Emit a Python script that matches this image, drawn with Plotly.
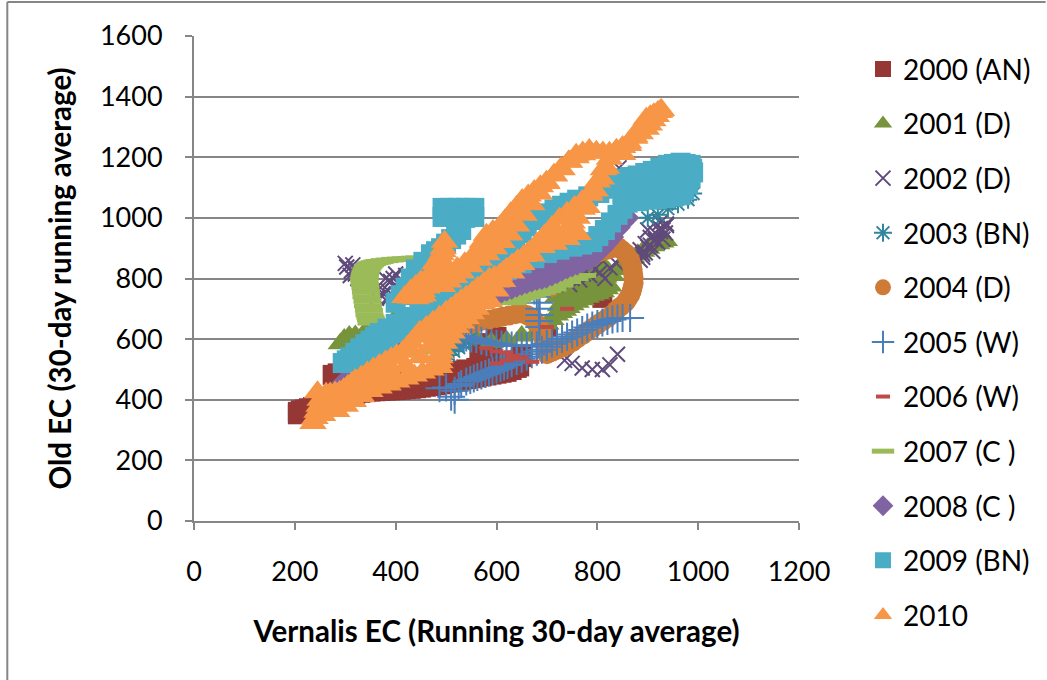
import plotly.graph_objects as go

names = ["2000 (AN)", "2001 (D)", "2002 (D)", "2003 (BN)", "2004 (D)", "2005 (W)",
         "2006 (W)", "2007 (C )", "2008 (C )", "2009 (BN)", "2010"]
colors = ["#953735", "#77933C", "#604A7B", "#31859C", "#CD7B36", "#4A7EBB",
          "#BE4B48", "#9BBB59", "#8064A2", "#4BACC6", "#F79646"]
symbols = ["square", "triangle-up", "x-thin", "asterisk", "circle", "cross-thin",
           "line-ew", "line-ew", "diamond", "square", "triangle-up"]
sizes = [20, 22, 15, 15, 20, 20, 10, 20, 18, 20, 24]
line_w = [0, 0, 2, 2, 0, 2, 4, 5, 0, 0, 0]

x2000 = [206,206,212,220,228,236,245,254,262,271,280,290,300,310,320,330,340,350,360,370,380,390,400,410,420,430,440,450,460,470,480,490,500,510,520,530,540,550,560,570,580,590,600,610,620,630,640,645,
         275,285,300,315,330,345,360,380,400,420,440,460,480,500,520,540,560,580,600,620,635,
         566,576,590,600,630,650,700,744,770,810]
y2000 = [360,352,365,368,372,376,380,386,392,397,402,407,412,416,420,423,425,427,428,429,430,431,432,433,435,436,438,440,443,445,448,451,455,457,460,464,468,471,474,477,480,483,486,489,492,498,505,510,
         482,487,495,502,510,520,530,455,462,465,468,475,480,490,495,500,505,515,520,525,530,
         555,587,575,607,525,541,640,740,762,736]
x2001 = [290,298,308,320,340,370,400,560,590,620,650,680,700,710,719,727,735,742,750,760,770,780,790,800,810,818,825,830,822,815,803,790,775,760,745,730,720,740,760,780,800,815,780,750,
         725,735,750,765,785,800,815,770,790,810,745,760,775,795,
         840,850,860,870,880,890,900,910,920,928,935]
y2001 = [585,600,610,612,625,650,670,600,590,595,610,625,650,665,680,688,695,704,713,722,730,738,745,750,756,766,775,810,822,830,825,820,815,810,795,780,740,760,780,790,800,780,760,730,
         710,725,745,760,775,790,805,830,845,845,770,795,800,820,
         830,845,860,870,880,890,900,908,915,920,925]
x2002 = [303,312,320,330,340,380,400,420,405,385,370,362,390,310,315,325,335,345,300,320,335,395,410,375,390,405,415,380,420,735,750,770,790,810,825,840,
         745,765,785,805,825,838,750,772,795,815,885,895,905,915,925,937,900,920,910,930,890,
         875,885,895,905,915,925,935,890,900,915,930,937,925,843]
y2002 = [838,825,830,815,800,800,815,810,770,760,770,735,790,810,845,800,830,790,850,815,780,800,790,750,740,745,770,730,780,530,520,505,500,500,515,550,
         780,795,810,820,835,850,800,815,830,800,860,885,910,930,955,980,960,920,890,930,880,
         875,895,915,935,950,965,950,870,905,925,960,975,985,1165]
x2003 = [495,505,515,525,535,545,900,920,940,960,980,990,985]
y2003 = [535,548,560,572,585,598,1000,1010,1030,1045,1060,1080,1105]
x2004 = [510,530,550,560,570,585,600,612,625,638,650,660,668,675,680,686,690,693,695,698,700,710,720,730,740,750,760,770,780,790,800,810,820,830,838,846,855,860,865,868,870,872,872,871,870,868,865,860,855,848,840,830,820,810,800,790,780,770,760,750,742,733,725,718,712,708,705]
y2004 = [630,640,650,655,660,665,670,674,678,682,685,680,672,662,650,635,620,605,590,570,550,558,565,572,580,590,602,613,625,636,648,659,670,682,695,707,720,732,745,757,770,785,800,815,830,845,860,872,885,895,905,900,895,890,885,877,868,859,850,840,830,820,810,800,790,780,770]
x2005 = [487,500,510,517,517,525,530,540,548,555,562,570,578,585,592,600,608,615,622,630,640,650,660,670,680,690,700,710,720,730,740,750,760,770,780,790,800,810,820,830,840,850,865,
         525,532,540,550,560,570,580,590,600,610,620,630,640,650,660,670,680,700,685,685,685,685,685,680,675]
y2005 = [438,440,410,400,430,445,452,460,465,470,475,480,485,490,495,500,505,510,515,520,528,535,542,550,558,565,575,585,592,600,608,615,622,630,638,645,650,655,660,665,668,670,670,
         610,608,605,602,600,595,590,587,585,582,580,579,578,578,578,579,580,585,640,660,680,700,720,740,760]
x2006 = [580,600,620,632,650,671,700,740,600,620,640]
y2006 = [570,560,555,545,540,525,640,700,520,530,535]
x2007 = [352,351,350,348,347,345,344,342,341,340,339,338,338,338,339,340,342,344,346,349,353,358,363,368,378,388,399,410,420,430,438,447,
         422,435,453,632,641,650,660,670,680,690,700,711,725,740,755,770]
y2007 = [653,665,672,680,695,710,725,740,755,770,780,790,798,805,812,820,828,835,840,845,849,852,854,856,859,861,863,864,865,866,867,868,
         555,555,558,720,728,735,740,745,750,755,760,765,778,790,800,810]
x2008 = [295,305,315,325,335,345,355,365,375,385,395,408,418,430,445,460,475,490,505,520,535,550,565,580,590,600,610,620,630,640,650,660,670,680,690,699,710,720,730,740,750,760,772,784,797,810,820,830,843,857,
         590,610,630,650,670,690,710,730,750,775,800,820,840,850,860]
y2008 = [455,465,478,490,500,512,525,538,548,556,565,574,586,600,620,640,660,680,695,706,716,725,733,740,745,750,756,762,768,775,781,787,792,797,801,805,812,820,828,835,842,848,855,861,880,900,918,937,968,1000,
         765,780,795,810,825,835,850,865,880,905,925,950,975,985,1000]
x2009 = [493,493,509,525,540,556,556,538,520,530,520,510,500,490,480,470,455,440,430,420,410,400,
         295,303,310,320,330,340,350,359,368,384,400,417,434,447,460,475,490,505,520,535,550,565,580,593,606,615,625,637,650,660,671,685,700,715,730,745,760,782,804,817,830,840,850,865,880,895,910,925,940,952,965,975,985,988,990,985,980,972,965,950,935,918,900,880,860,850,840,827,815,802,790,770,750,725,700,675,650,620,592,576,560,545,530,510,490,475,460,445,430,415,400,385,370,355,340,325,310,
         900,920,950,880,850,910,950,940,870,930,960]
y2009 = [1033,1003,1033,1033,1033,1033,1003,1000,1000,960,945,930,915,900,890,880,855,830,800,770,745,720,
         521,530,540,555,570,583,595,608,620,635,650,662,673,687,700,720,740,760,780,800,820,833,845,853,861,880,900,925,950,972,993,1004,1015,1028,1040,1050,1060,1071,1082,1096,1110,1120,1130,1135,1140,1148,1155,1165,1175,1178,1182,1178,1175,1162,1150,1130,1110,1092,1075,1070,1065,1062,1060,1055,1050,1030,1010,985,960,940,920,912,905,895,884,867,850,828,805,792,780,765,750,725,700,690,680,665,650,635,620,600,580,565,550,537,525,
         1100,1110,1130,1100,1080,1130,1150,1100,1100,1140,1120]
x2010 = [236,240,244,248,250,245,255,265,275,
         262,270,280,289,297,305,313,320,332,344,356,368,380,391,402,414,423,431,440,448,461,474,487,500,510,520,530,540,552,563,575,586,596,606,613,620,631,642,654,665,680,695,710,725,740,755,770,784,
         283,300,316,332,349,367,385,402,420,437,453,470,487,488,488,489,490,497,505,512,520,530,540,550,560,573,586,599,612,630,650,670,691,715,740,762,750,760,780,796,808,818,824,
         300,330,360,390,420,450,470,480,500,525,550,575,600,630,660,690,720,750,740,770,785,800,812,
         418,429,440,448,455,442,430,440,450,460,470,475,480,472,465,478,490,494,497,494,490,482,475,462,450,436,
         453,463,473,483,493,507,522,537,552,562,572,580,593,606,617,628,640,651,663,675,687,699,714,728,743,758,771,784,
         493,505,517,530,548,566,581,596,611,626,640,655,670,685,700,715,730,745,758,771,785,798,811,824,837,850,
         862,874,885,897,905,912,920,927,925,923,917,910,903,897,885,874,862,850,838]
y2010 = [323,340,360,380,400,425,350,370,380,
         420,421,424,426,435,445,455,465,477,490,503,515,526,537,547,558,575,590,608,624,640,657,674,690,702,715,728,740,755,770,785,800,806,812,822,832,846,860,874,888,915,942,970,997,1017,1036,1056,1076,
         363,380,396,412,429,440,450,460,470,480,490,500,508,524,540,555,570,588,605,622,640,655,670,685,700,718,726,760,792,820,848,876,904,915,930,947,965,1000,1036,1090,1130,1165,1195,
         400,440,470,490,510,540,580,610,640,680,715,750,790,840,880,930,950,985,1000,1030,1080,1120,1160,
         739,737,735,740,745,752,760,775,790,795,800,820,840,820,800,850,880,900,921,890,860,820,780,770,760,750,
         759,775,792,806,820,827,835,850,865,893,921,944,957,970,992,1015,1037,1059,1074,1089,1104,1119,1142,1164,1186,1208,1216,1224,
         775,790,805,820,840,862,880,900,920,945,975,1010,1045,1080,1115,1140,1160,1185,1200,1210,1218,1218,1216,1215,1213,1211,
         1240,1269,1298,1327,1335,1342,1349,1356,1353,1350,1336,1322,1308,1294,1279,1264,1249,1234,1225]

xs = [x2000,x2001,x2002,x2003,x2004,x2005,x2006,x2007,x2008,x2009,x2010]
ys = [y2000,y2001,y2002,y2003,y2004,y2005,y2006,y2007,y2008,y2009,y2010]

x_ticks = [0,200,400,600,800,1000,1200]
y_ticks = [0,200,400,600,800,1000,1200,1400,1600]
FONT = "Lato"
GRAY = "#868686"

fig = go.Figure()
for i, n in enumerate(names):
    fig.add_trace(go.Scatter(
        x=xs[i], y=ys[i], name=n, mode="markers", legendgroup=n,
        marker=dict(symbol=symbols[i], size=sizes[i], color=colors[i],
                    line=dict(width=line_w[i], color=colors[i])),
        cliponaxis=False))

fig.update_layout(
    width=1047, height=680, paper_bgcolor="white", plot_bgcolor="white",
    margin=dict(l=194, r=247, t=36, b=159),
    font=dict(family=FONT, size=27, color="black"),
    xaxis=dict(range=[0,1200], tickvals=x_ticks, showgrid=False, zeroline=False,
               showline=True, linecolor=GRAY, linewidth=2, ticks="outside", ticklen=7,
               tickcolor=GRAY, tickwidth=2, ticklabelstandoff=19,
               title=dict(text="<b>Vernalis EC (Running 30-day average)</b>", standoff=35,
                          font=dict(family=FONT, size=29.5))),
    yaxis=dict(range=[0,1600], tickvals=y_ticks, showgrid=True, gridcolor=GRAY, gridwidth=2,
               zeroline=False, showline=True, linecolor=GRAY, linewidth=2, ticks="outside",
               ticklen=7, tickcolor=GRAY, tickwidth=2, ticklabelstandoff=17,
               title=dict(text="<b>Old EC (30-day running average)</b>", standoff=20,
                          font=dict(family=FONT, size=29.5))),
    legend=dict(x=(863-194)/606, y=0.983, yanchor="top", xanchor="left", tracegroupgap=15.2,
                font=dict(family=FONT, size=28), itemwidth=30, maxheight=650),
    showlegend=True,
)
fig.add_shape(type="line", xref="paper", yref="paper", x0=(7-194)/606, x1=(7-194)/606, y0=-0.33, y1=1.07,
              line=dict(color=GRAY, width=2))
fig.add_shape(type="line", xref="paper", yref="paper", x0=(7-194)/606, x1=(1047-194)/606, y0=1.0701, y1=1.0701,
              line=dict(color=GRAY, width=2))
fig.write_html("out.html", config=dict(displayModeBar=False), post_script="document.body.style.margin='0';")
